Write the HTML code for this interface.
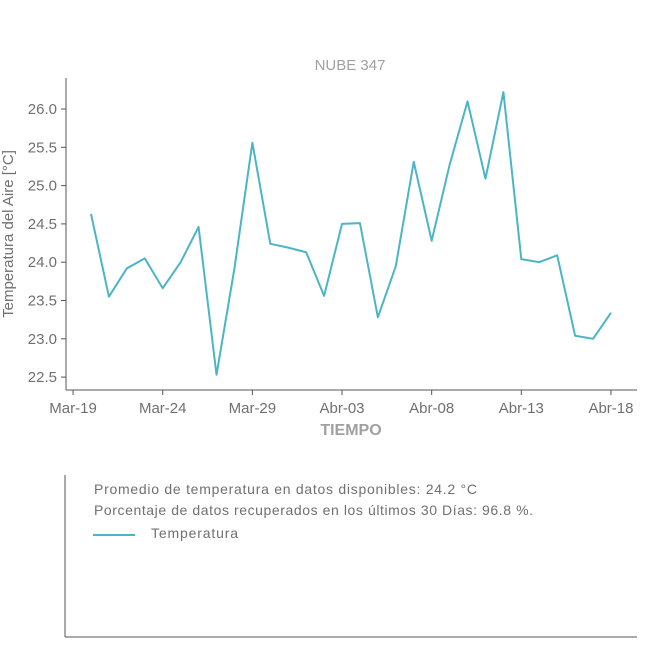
<!DOCTYPE html>
<html><head><meta charset="utf-8"><style>
body{margin:0;background:#fff;font-family:"Liberation Sans",sans-serif}
</style></head><body>
<svg width="650" height="650" xmlns="http://www.w3.org/2000/svg">
<g id="chart"></g>
</svg>
<script>
const dates=["Mar-20","Mar-21","Mar-22","Mar-23","Mar-24","Mar-25","Mar-26","Mar-27","Mar-28","Mar-29","Mar-30","Mar-31","Apr-01","Apr-02","Apr-03","Apr-04","Apr-05","Apr-06","Apr-07","Apr-08","Apr-09","Apr-10","Apr-11","Apr-12","Apr-13","Apr-14","Apr-15","Apr-16","Apr-17","Apr-18"];
const temps=[24.63,23.55,23.92,24.05,23.66,24.0,24.46,22.53,23.92,25.56,24.24,24.19,24.13,23.56,24.5,24.51,23.28,23.95,25.31,24.28,25.27,26.1,25.09,26.22,24.04,24.0,24.09,23.04,23.0,23.34];
const yTicks=[22.5,23.0,23.5,24.0,24.5,25.0,25.5,26.0];
const xTickLabels=["Mar-19","Mar-24","Mar-29","Abr-03","Abr-08","Abr-13","Abr-18"];
const xTickDays=[-1,4,9,14,19,24,29];
const NS="http://www.w3.org/2000/svg";
const g=document.getElementById('chart');
const X=d=>91+d*17.93;
const Y=v=>109+(26-v)*76.6;
function mk(t,a,txt){const e=document.createElementNS(NS,t);for(const k in a)e.setAttribute(k,a[k]);if(txt!=null)e.textContent=txt;g.appendChild(e);return e;}
let e;
e=mk('text',{x:350,y:70,'text-anchor':'middle','font-size':15,fill:'#a0a0a0'},'NUBE 347');


e=mk('line',{x1:66,y1:78,x2:66,y2:390,stroke:'#555','stroke-width':1});


e=mk('line',{x1:66,y1:390,x2:637,y2:390,stroke:'#555','stroke-width':1});


yTicks.forEach(v=>{
 e=mk('line',{x1:61,y1:Y(v),x2:66,y2:Y(v),stroke:'#555'});
 
 
 e=mk('text',{x:57,y:Y(v)+5,'text-anchor':'end','font-size':15,fill:'#707070'},v.toFixed(1));
 
 
});
xTickDays.forEach((d,i)=>{
 e=mk('line',{x1:X(d),y1:390,x2:X(d),y2:395,stroke:'#555'});
 
 
 e=mk('text',{x:X(d),y:413,'text-anchor':'middle','font-size':15,fill:'#707070'},xTickLabels[i]);
 
 
});
e=mk('text',{x:351,y:435,'text-anchor':'middle','font-size':16,'font-weight':'bold',fill:'#a0a0a0'},'TIEMPO');


e=mk('text',{x:0,y:0,transform:'translate(13,234) rotate(-90)','text-anchor':'middle','font-size':15,fill:'#707070'},'Temperatura del Aire [°C]');


e=mk('polyline',{points:temps.map((v,i)=>X(i)+','+Y(v)).join(' '),fill:'none',stroke:'#4cb5c3','stroke-width':2,'stroke-linejoin':'round'});


e=mk('line',{x1:65,y1:475,x2:65,y2:637,stroke:'#555'});


e=mk('line',{x1:65,y1:637,x2:637,y2:637,stroke:'#555'});


e=mk('text',{x:94,y:494,'font-size':14,fill:'#707070',textLength:383,lengthAdjust:'spacing'},'Promedio de temperatura en datos disponibles: 24.2 °C');


e=mk('text',{x:94,y:515,'font-size':14,fill:'#707070',textLength:439,lengthAdjust:'spacing'},'Porcentaje de datos recuperados en los últimos 30 Días: 96.8 %.');


e=mk('line',{x1:93,y1:535,x2:135,y2:535,stroke:'#4cb5c3','stroke-width':2});


e=mk('text',{x:151,y:538,'font-size':14,fill:'#707070',textLength:87,lengthAdjust:'spacing'},'Temperatura');


</script>
</body></html>
